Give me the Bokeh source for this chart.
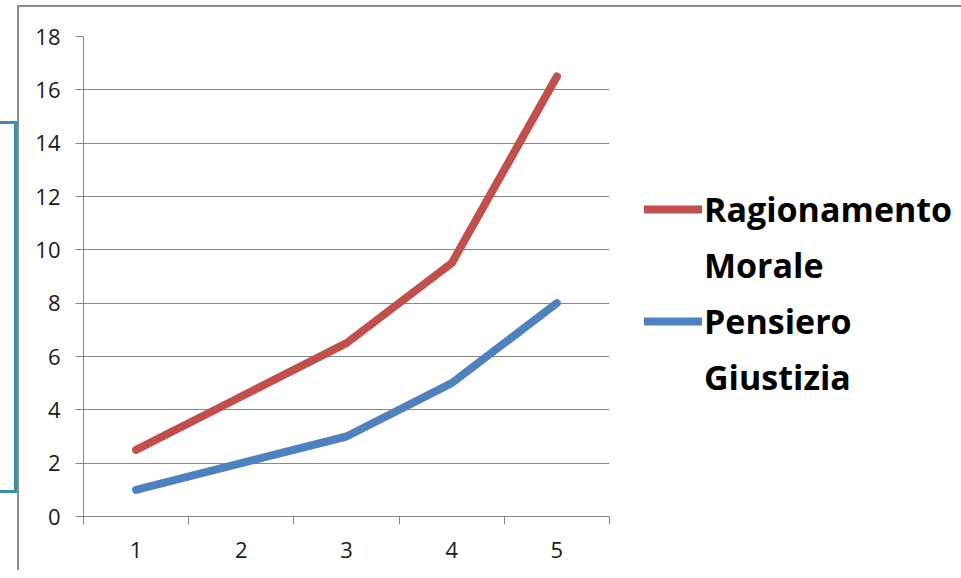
from bokeh.plotting import figure
from bokeh.models import Range1d, FixedTicker, Legend, LegendItem, InlineStyleSheet
from bokeh.embed import file_html
from bokeh.resources import INLINE

# data
categories = [1, 2, 3, 4, 5]
ragionamento_morale = [2.5, 4.5, 6.5, 9.5, 16.5]
pensiero_giustizia = [1, 2, 3, 5, 8]
y_ticks = [0, 2, 4, 6, 8, 10, 12, 14, 16, 18]
series_names = [["Ragionamento", "Morale"], ["Pensiero", "Giustizia"]]

FONT = "Open Sans"
GRAY = "#868686"

p = figure(frame_width=526, frame_height=480, output_backend="svg", toolbar_location=None,
           x_range=Range1d(0.5, 5.5), y_range=Range1d(0, 18))
p.min_border_left = 83
p.min_border_top = 36
p.min_border_bottom = 54
p.min_border_right = 0
p.outline_line_color = None
p.background_fill_color = "white"
p.border_fill_color = "white"

# y axis
ya = p.yaxis[0]
ya.ticker = FixedTicker(ticks=y_ticks)
ya.axis_line_color = GRAY
ya.major_tick_line_color = GRAY
ya.major_tick_out = 8
ya.major_tick_in = 0
ya.minor_tick_line_color = None
ya.major_label_text_font = FONT
ya.major_label_text_font_size = "22px"
ya.major_label_text_color = "#1a1a1a"
ya.major_label_standoff = 15

# x axis
xa = p.xaxis[0]
xa.ticker = FixedTicker(ticks=categories,
                        minor_ticks=[c - 0.5 for c in categories] + [categories[-1] + 0.5])
xa.axis_line_color = GRAY
xa.major_tick_line_color = None
xa.major_tick_out = 0
xa.major_tick_in = 0
xa.minor_tick_line_color = GRAY
xa.minor_tick_out = 8
xa.minor_tick_in = 0
xa.major_label_text_font = FONT
xa.major_label_text_font_size = "22px"
xa.major_label_text_color = "#1a1a1a"
xa.major_label_standoff = 17

p.xgrid.grid_line_color = None
p.ygrid.ticker = FixedTicker(ticks=y_ticks)
p.ygrid.grid_line_color = GRAY
p.ygrid.grid_line_width = 1

r1 = p.line(categories, ragionamento_morale, line_color="#C0504D", line_width=8,
            line_cap="round", line_join="round")
r2 = p.line(categories, pensiero_giustizia, line_color="#4F81BD", line_width=8,
            line_cap="round", line_join="round")
# blank-glyph holders for the second line of each (wrapped) legend label
d1 = p.line([], [], line_alpha=0)
d2 = p.line([], [], line_alpha=0)

legend = Legend(items=[LegendItem(label=series_names[0][0], renderers=[r1]),
                       LegendItem(label=series_names[0][1], renderers=[d1]),
                       LegendItem(label=series_names[1][0], renderers=[r2]),
                       LegendItem(label=series_names[1][1], renderers=[d2])],
                location=(35, 116))
legend.label_text_font = FONT
legend.label_text_font_style = "bold"
legend.label_text_font_size = "34px"
legend.label_text_color = "#000000"
legend.glyph_width = 58
legend.glyph_height = 34
legend.label_standoff = 2
legend.spacing = 10
legend.padding = 0
legend.margin = 0
legend.border_line_color = None
legend.background_fill_alpha = 0
p.add_layout(legend, "right")

# chart-area border and teal bracket (page decoration)
p.stylesheets = [InlineStyleSheet(css="""
:host { position: relative; }
:host::before {
  content: ""; position: absolute; left: 17px; top: 5px;
  width: calc(100% - 17px); height: calc(100% - 5px);
  border-left: 2px solid #8c8c8c; border-top: 2px solid #8c8c8c;
  box-sizing: border-box; pointer-events: none; z-index: 10;
}
:host::after {
  content: ""; position: absolute; left: 0px; top: 121px;
  width: 17px; height: 372px;
  border: 3px solid #3A8FA5; border-left: none;
  box-sizing: border-box; pointer-events: none; z-index: 10;
}
""")]

open("out.html", "w").write(file_html(p, INLINE))
